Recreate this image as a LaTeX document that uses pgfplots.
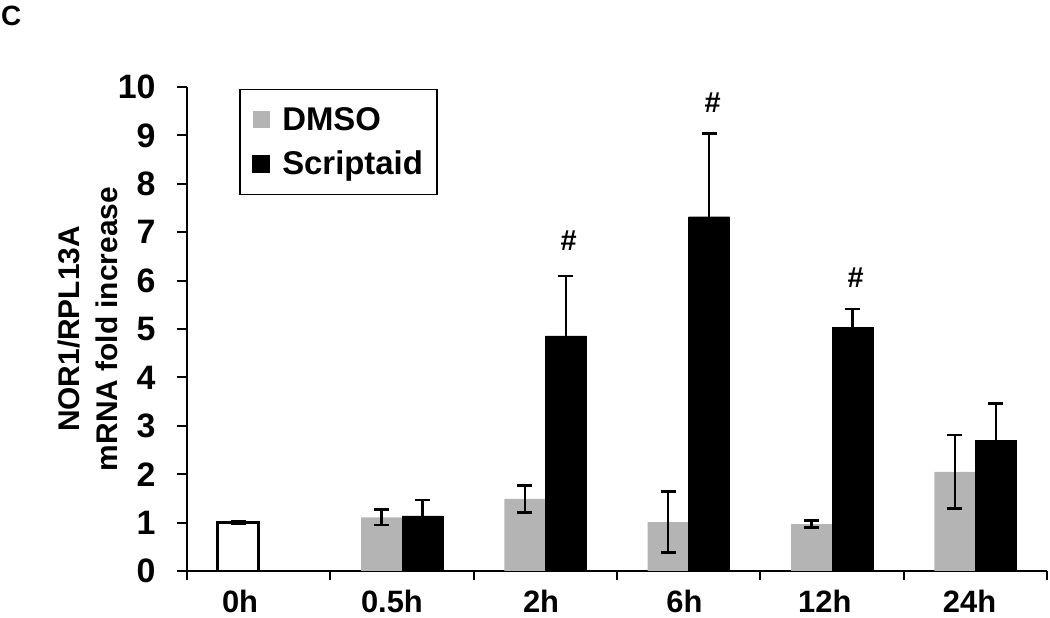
\documentclass[border=0pt]{standalone}
\usepackage{fontspec}
\setmainfont{Liberation Sans}
\usepackage{pgfplots}
\usepackage{pgfplotstable}
\pgfplotsset{compat=1.18}
\definecolor{dmso}{RGB}{180,180,180}

\pgfplotstableread{
x y e
0 1.00 0.03
}\zerotab
\pgfplotstableread{
x y e
1 1.11 0.16
2 1.49 0.28
3 1.01 0.63
4 0.97 0.07
5 2.05 0.76
}\dmsotab
\pgfplotstableread{
x y e
1 1.14 0.33
2 4.86 1.23
3 7.32 1.72
4 5.03 0.38
5 2.70 0.76
}\scripttab

\begin{document}
\begin{tikzpicture}
\path[use as bounding box] (-187bp,-47bp) rectangle (863bp,571bp);
\node[anchor=north west, inner sep=0pt, font={\fontsize{28}{32}\selectfont\bfseries}] at (-186bp,565bp) {C};
\begin{axis}[
  scale only axis, width=860bp, height=484bp,
  xmin=-0.5, xmax=5.5, ymin=0, ymax=10,
  axis x line*=bottom, axis y line*=left,
  axis line style={line width=2.5bp, black},
  every tick/.style={line width=2bp, black},
  tick align=outside,
  major tick length=10bp, minor tick length=9bp,
  ytick={0,1,...,10},
  xtick={-0.13,0.93,1.97,2.97,3.95,4.96},
  xticklabels={0h,0.5h,2h,6h,12h,24h},
  major x tick style={draw=none},
  minor xtick={-0.5,0.5,1.5,2.5,3.5,4.5,5.5},
  /pgf/number format/assume math mode=true,
  yticklabel style={font={\fontsize{34}{38}\selectfont\bfseries}, xshift=-18bp},
  xticklabel style={font={\fontsize{31}{34}\selectfont\bfseries}, yshift=-6bp},
  ylabel={NOR1/RPL13A\\mRNA fold increase},
  ylabel style={align=center, font={\fontsize{30}{38}\selectfont\bfseries},
    at={(axis description cs:-0.115,0.5)}, anchor=center},
  ybar, bar width=41bp,
  error bars/y dir=both, error bars/y explicit,
  error bars/error bar style={line width=2.5bp, black},
  error bars/error mark options={rotate=90, mark size=7.5bp, line width=2.5bp, black},
  legend style={at={(axis description cs:0.0605,0.996)}, anchor=north west,
    draw=black, line width=1.5bp, font={\fontsize{33}{38}\selectfont\bfseries},
    inner xsep=12bp, inner ysep=16bp, row sep=15bp,
    /tikz/every odd column/.append style={column sep=10bp}},
  legend cell align=left,
  legend image code/.code={\fill[#1] (0bp,-8.5bp) rectangle (17bp,8.5bp);},
]
\addplot[fill=white, draw=black, line width=2.5bp, bar shift=-20.5bp, forget plot]
  table[x=x, y=y, y error=e] {\zerotab};
\addplot[fill=dmso, draw=none, bar shift=-20.5bp]
  table[x=x, y=y, y error=e] {\dmsotab};
\addplot[fill=black, draw=black, bar shift=20.5bp]
  table[x=x, y=y, y error=e] {\scripttab};
\legend{DMSO, Scriptaid}
\node[font={\fontsize{29}{32}\selectfont\bfseries}] at (axis cs:2.163,6.82) {\#};
\node[font={\fontsize{29}{32}\selectfont\bfseries}] at (axis cs:3.168,9.68) {\#};
\node[font={\fontsize{29}{32}\selectfont\bfseries}] at (axis cs:4.165,6.07) {\#};
\end{axis}
\end{tikzpicture}
\end{document}
